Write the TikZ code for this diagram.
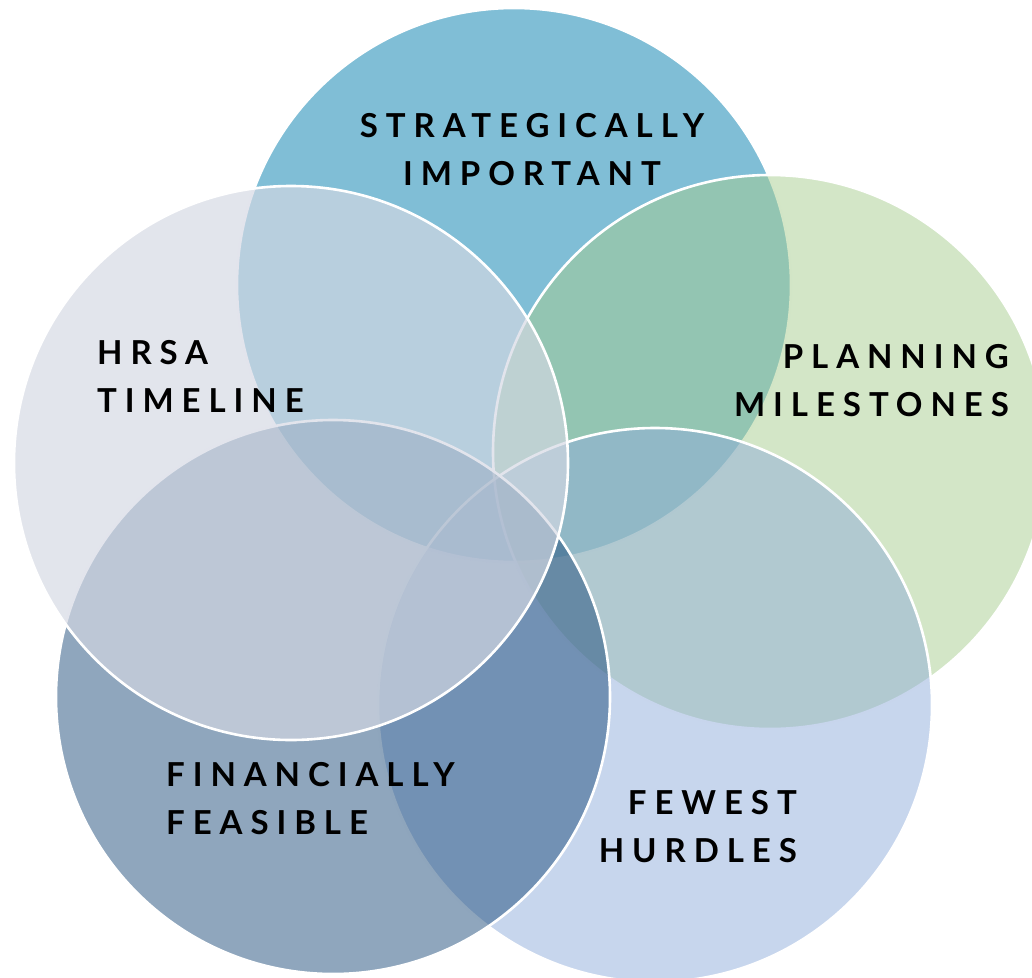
\documentclass[tikz,border=0pt]{standalone}
\usepackage{fontspec}
\setmainfont{Lato}
\definecolor{cBlue}{HTML}{80BED6}
\definecolor{cGreen}{HTML}{A7CD8F}
\definecolor{cLBlue}{HTML}{90ADDB}
\definecolor{cSlate}{HTML}{1F4D7B}
\definecolor{cGray}{HTML}{D4D8E3}
\begin{document}
\begin{tikzpicture}[x=1pt,y=-1pt,
  circ/.style={draw=white, line width=2.6pt, draw opacity=1},
  lab/.style={font=\fontsize{33}{47.5}\selectfont\bfseries\addfontfeatures{LetterSpace=24}, inner sep=0pt, text=black}]
\useasboundingbox (0,0) rectangle (1032,977);
\clip (0,0) rectangle (1032,977);
\path[circ, fill=cBlue] (514,285) circle[radius=277pt];
\path[circ, fill=cGreen, fill opacity=0.5] (770,452) circle[radius=277pt];
\path[circ, fill=cLBlue, fill opacity=0.5] (655,705) circle[radius=277pt];
\path[circ, fill=cSlate, fill opacity=0.5] (333,697) circle[radius=277pt];
\path[circ, fill=cGray, fill opacity=0.67] (291,463) circle[radius=277pt];
\node[lab, anchor=base, align=center] (top) at (532,185) {STRATEGICALLY\\IMPORTANT};
\node[lab, anchor=base west, align=left] (hrsa) at (97,412) {HRSA\\TIMELINE};
\node[lab, anchor=base east, align=right] (plan) at (1009,416) {PLANNING\\MILESTONES};
\node[lab, anchor=base west, align=left] (fin) at (166,834) {FINANCIALLY\\FEASIBLE};
\node[lab, anchor=base east, align=right] (few) at (797,862) {FEWEST\\HURDLES};
\end{tikzpicture}
\end{document}
